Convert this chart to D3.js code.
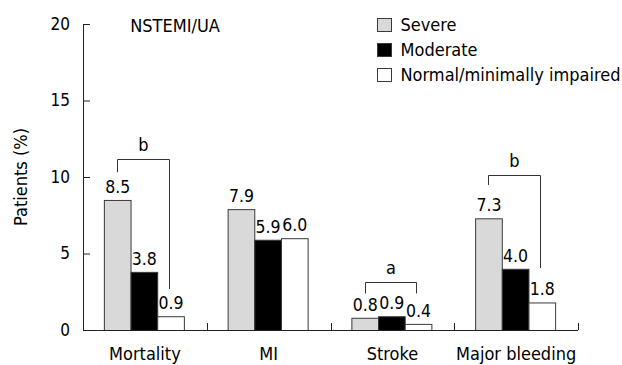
<!DOCTYPE html>
<html><head><meta charset="utf-8">
<script src="https://cdn.jsdelivr.net/npm/d3@7"></script>
<style>body{margin:0;background:#fff}svg text{font-family:"DejaVu Sans Condensed","DejaVu Sans",sans-serif;font-stretch:condensed;fill:#000}</style>
</head><body><svg id="c" width="622" height="365"></svg>
<script>
const categories = ["Mortality", "MI", "Stroke", "Major bleeding"];
const seriesNames = ["Severe", "Moderate", "Normal/minimally impaired"];
const severe = [8.5, 7.9, 0.8, 7.3];
const moderate = [3.8, 5.9, 0.9, 4.0];
const normal = [0.9, 6.0, 0.4, 1.8];
const valueLabels = [["8.5","3.8","0.9"],["7.9","5.9","6.0"],["0.8","0.9","0.4"],["7.3","4.0","1.8"]];
const yTicks = [0, 5, 10, 15, 20];
const chartTitle = "NSTEMI/UA";
const yTitle = "Patients (%)";
// brackets: category, significance letter, top value, left leg end, right leg end
const bracketCats = ["Mortality", "Stroke", "Major bleeding"];
const bracketLetters = ["b", "a", "b"];
const bracketTop = [11.18, 3.15, 10.13];
const bracketLeftEnd = [10.31, 2.39, 9.48];
const bracketRightEnd = [2.68, 2.39, 4.05];

const fills = ["#d9d9d9", "#000000", "#ffffff"];
const FF = "'DejaVu Sans Condensed','DejaVu Sans',sans-serif";
const svg = d3.select("#c");
const pLeft = 83, pRight = 578, pTop = 24, pBottom = 330;
const y = d3.scaleLinear().domain([0, 20]).range([pBottom, pTop]);
const x0 = d3.scaleBand().domain(categories).range([pLeft, pRight]).padding(0);
const groupW = 80;
const x1 = d3.scaleBand().domain(seriesNames).range([0, groupW]).padding(0);
const off = (x0.bandwidth() - groupW) / 2 - 1;
const seriesVals = [severe, moderate, normal];

const data = [];
categories.forEach((c, i) => seriesNames.forEach((s, j) => data.push({c, s, j, v: seriesVals[j][i], lab: valueLabels[i][j]})));

// bars
svg.append("g").selectAll("rect").data(data).join("rect")
  .attr("x", d => x0(d.c) + off + x1(d.s) + 0.5)
  .attr("y", d => y(d.v) + 0.5)
  .attr("width", x1.bandwidth())
  .attr("height", d => y(0) - y(d.v))
  .attr("fill", d => fills[d.j])
  .attr("stroke", "#3a3a3a").attr("stroke-width", 1);

// value labels
svg.append("g").selectAll("text").data(data).join("text")
  .attr("x", d => x0(d.c) + off + x1(d.s) + x1.bandwidth() / 2 + 0.5)
  .attr("y", d => y(d.v) - 7)
  .attr("text-anchor", "middle").attr("font-size", 17.5)
  .text(d => d.lab);

// y axis
const yAxis = d3.axisLeft(y).tickValues(yTicks).tickSizeInner(-7).tickSizeOuter(0).tickPadding(13);
const gy = svg.append("g").attr("transform", `translate(${pLeft},0)`).call(yAxis);
gy.selectAll("path,line").attr("stroke", "#222");
gy.selectAll("text").attr("font-size", 17).attr("font-family", FF).attr("fill", "#000");

// x axis
const xAxis = d3.axisBottom(x0).tickSize(0);
const gx = svg.append("g").attr("transform", `translate(0,${pBottom})`).call(xAxis);
gx.select("path").attr("stroke", "#222").attr("d", `M${pLeft},0.5H${pRight}`);
gx.selectAll("text").attr("font-size", 18).attr("font-family", FF).attr("fill", "#000")
  .attr("dy", null).attr("y", 30);
svg.append("g").selectAll("line").data(categories).join("line")
  .attr("x1", c => Math.round(x0(c) + x0.bandwidth()) + 0.5)
  .attr("x2", c => Math.round(x0(c) + x0.bandwidth()) + 0.5)
  .attr("y1", pBottom).attr("y2", pBottom - 7)
  .attr("stroke", "#222");

// brackets
const bg = svg.append("g");
bracketCats.forEach((c, i) => {
  const xl = Math.round(x0(c) + off + x1(seriesNames[0]) + x1.bandwidth() / 2) + 0.5;
  const xr = Math.round(x0(c) + off + x1(seriesNames[2]) + x1.bandwidth() / 2) - 1.5;
  const yt = Math.round(y(bracketTop[i])) + 0.5;
  bg.append("path")
    .attr("d", `M${xl},${y(bracketLeftEnd[i])}V${yt}H${xr}V${y(bracketRightEnd[i])}`)
    .attr("fill", "none").attr("stroke", "#333").attr("stroke-width", 1);
  bg.append("text").attr("x", (xl + xr) / 2).attr("y", yt - 9)
    .attr("text-anchor", "middle").attr("font-size", 18).text(bracketLetters[i]);
});

// title
svg.append("text").attr("x", 175).attr("y", 31.5).attr("text-anchor", "middle").attr("font-size", 18).text(chartTitle);

// y title
svg.append("text").attr("transform", `translate(27,177) rotate(-90)`)
  .attr("text-anchor", "middle").attr("font-size", 18).text(yTitle);

// legend
const lg = svg.append("g").selectAll("g").data(seriesNames).join("g")
  .attr("transform", (d, i) => `translate(377.5,${18.5 + i * 25})`);
lg.append("rect").attr("width", 14).attr("height", 13)
  .attr("fill", (d, i) => fills[i]).attr("stroke", "#3a3a3a");
lg.append("text").attr("x", 23).attr("y", 12.5).attr("font-size", 18).text(d => d);
</script></body></html>
